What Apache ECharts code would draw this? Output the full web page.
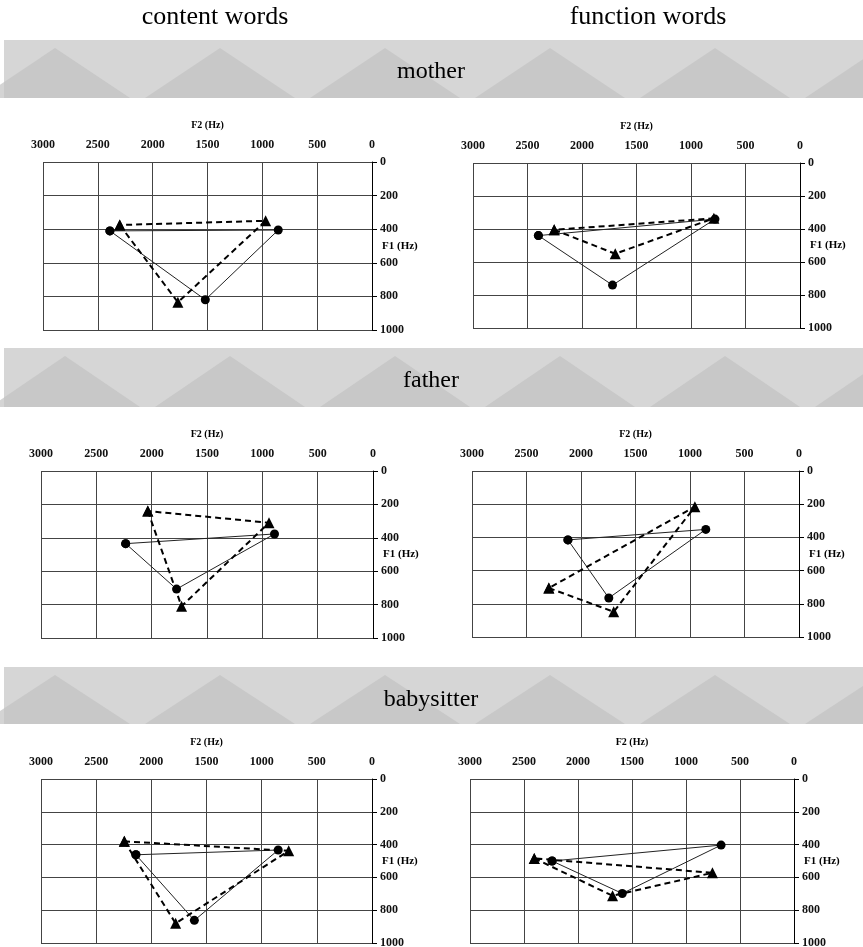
<!DOCTYPE html>
<html>
<head>
<meta charset="utf-8">
<title>vowel space</title>
<script src="https://cdn.jsdelivr.net/npm/echarts/dist/echarts.min.js"></script>
<style>
  html, body { margin: 0; padding: 0; background: #fff; }
  #chart { width: 863px; height: 947px; }
</style>
</head>
<body>
<div id="chart"></div>
<script>
// column / row headings
const columnTitles = ["content words", "function words"];
const rowTitles = ["mother", "father", "babysitter"];

// axis ticks (Hz)
const f2Ticks = [0, 500, 1000, 1500, 2000, 2500, 3000];
const f1Ticks = [0, 200, 400, 600, 800, 1000];

// [F2, F1] per vowel corner, circles (solid) and triangles (dashed)
const motherContentDots = [[2390, 410], [1520, 820], [855, 405]];
const motherContentTris = [[2300, 375], [1770, 835], [970, 350]];
const motherFunctionDots = [[2400, 440], [1720, 740], [780, 340]];
const motherFunctionTris = [[2255, 405], [1695, 550], [790, 335]];
const fatherContentDots = [[2235, 435], [1775, 707], [890, 377]];
const fatherContentTris = [[2035, 240], [1730, 810], [940, 310]];
const fatherFunctionDots = [[2120, 415], [1745, 765], [855, 352]];
const fatherFunctionTris = [[2295, 705], [1700, 848], [955, 215]];
const babysitterContentDots = [[2140, 462], [1610, 862], [850, 433]];
const babysitterContentTris = [[2245, 380], [1780, 880], [755, 438]];
const babysitterFunctionDots = [[2240, 500], [1590, 698], [675, 403]];
const babysitterFunctionTris = [[2405, 484], [1680, 712], [755, 572]];

const panels = [
  { dots: motherContentDots, tris: motherContentTris },
  { dots: motherFunctionDots, tris: motherFunctionTris },
  { dots: fatherContentDots, tris: fatherContentTris },
  { dots: fatherFunctionDots, tris: fatherFunctionTris },
  { dots: babysitterContentDots, tris: babysitterContentTris },
  { dots: babysitterFunctionDots, tris: babysitterFunctionTris },
];

// plot boxes in pixels
const boxes = [
  { left: 43, top: 162, width: 329, height: 168 },
  { left: 473, top: 163, width: 327, height: 165 },
  { left: 41, top: 471, width: 332, height: 167 },
  { left: 472, top: 471, width: 327, height: 166 },
  { left: 41, top: 779, width: 331, height: 164 },
  { left: 470, top: 779, width: 324, height: 164 },
];
const bands = [
  { top: 40, height: 58, textY: 72 },
  { top: 348, height: 59, textY: 381 },
  { top: 667, height: 57, textY: 700 },
];

const serif = "Liberation Serif";
const chart = echarts.init(document.getElementById("chart"));

const close = (pts) => pts.concat([pts[0]]);
const plain = (v) => String(v);

let grids = [], xAxes = [], yAxes = [], series = [];
panels.forEach((p, i) => {
  grids.push(Object.assign({ outerBoundsMode: "none", containLabel: false }, boxes[i]));
  xAxes.push({
    gridIndex: i,
    type: "value",
    min: f2Ticks[0],
    max: f2Ticks[f2Ticks.length - 1],
    interval: f2Ticks[1] - f2Ticks[0],
    inverse: true,
    position: "top",
    name: "F2 (Hz)",
    nameLocation: "middle",
    nameGap: 32,
    nameTextStyle: { fontFamily: serif, fontWeight: "bold", fontSize: 10, color: "#000" },
    axisLine: { show: false },
    axisTick: { show: false },
    axisLabel: { margin: 11, fontFamily: serif, fontWeight: "bold", fontSize: 12, color: "#111", formatter: plain },
    splitLine: { show: true, lineStyle: { color: "#444", width: 1 } },
  });
  yAxes.push({
    gridIndex: i,
    type: "value",
    min: f1Ticks[0],
    max: f1Ticks[f1Ticks.length - 1],
    interval: f1Ticks[1] - f1Ticks[0],
    inverse: true,
    position: "right",
    name: "F1 (Hz)",
    nameLocation: "middle",
    nameRotate: 0,
    nameGap: 10,
    nameMoveOverlap: false,
    nameTextStyle: { fontFamily: serif, fontWeight: "bold", fontSize: 11, color: "#000", align: "left" },
    axisLine: { show: true, lineStyle: { color: "#000", width: 1 } },
    axisTick: { show: true, length: 5, lineStyle: { color: "#000" } },
    axisLabel: { margin: 8, fontFamily: serif, fontWeight: "bold", fontSize: 12, color: "#111", formatter: plain },
    splitLine: { show: true, lineStyle: { color: "#444", width: 1 } },
  });
  series.push({
    type: "line",
    xAxisIndex: i,
    yAxisIndex: i,
    data: close(p.dots),
    symbol: "circle",
    symbolSize: 9,
    itemStyle: { color: "#000" },
    lineStyle: { color: "#222", width: 1 },
    animation: false,
    z: 3,
  });
  series.push({
    type: "line",
    xAxisIndex: i,
    yAxisIndex: i,
    data: close(p.tris),
    symbol: "triangle",
    symbolSize: 11,
    itemStyle: { color: "#000" },
    lineStyle: { color: "#000", width: 2, type: [6, 4] },
    animation: false,
    z: 4,
  });
});

// textured bands behind the row titles
let graphics = [];
bands.forEach((b, r) => {
  graphics.push({
    type: "rect",
    shape: { x: 4, y: b.top, width: 859, height: b.height },
    style: { fill: "#d6d6d6" },
    z: -2,
  });
  for (let k = 0; k < 6; k++) {
    const cx = 55 + k * 165 + (r % 2) * 10;
    graphics.push({
      type: "polygon",
      shape: { points: [[cx - 75, b.top + b.height], [cx, b.top + 8], [cx + 75, b.top + b.height]] },
      style: { fill: "#c2c2c2", opacity: 0.7 },
      z: -1,
    });
  }
  graphics.push({
    type: "text",
    x: 431,
    y: b.textY,
    style: { text: rowTitles[r], font: "24px " + serif, fill: "#000", textAlign: "center", textVerticalAlign: "middle" },
    z: 5,
  });
});
columnTitles.forEach((t, c) => {
  graphics.push({
    type: "text",
    x: c === 0 ? 215 : 648,
    y: 17,
    style: { text: t, font: "26px " + serif, fill: "#000", textAlign: "center", textVerticalAlign: "middle" },
  });
});

chart.setOption({
  backgroundColor: "#fff",
  animation: false,
  grid: grids,
  xAxis: xAxes,
  yAxis: yAxes,
  series: series,
  graphic: graphics,
});
</script>
</body>
</html>
